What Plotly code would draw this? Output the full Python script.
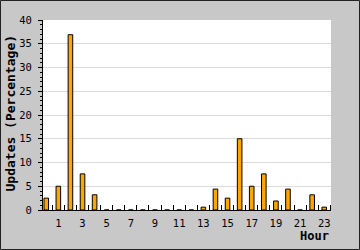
import plotly.graph_objects as go

hours = list(range(24))
updates_pct = [2.5, 5.0, 36.9, 7.6, 3.2, 0, 0, 0, 0, 0, 0, 0, 0,
               0.6, 4.4, 2.5, 15.0, 5.0, 7.6, 1.9, 4.4, 0, 3.2, 0.6]
x_tick_vals = [1, 3, 5, 7, 9, 11, 13, 15, 17, 19, 21, 23]
x_tick_text = [str(v) for v in x_tick_vals]

W, H = 360, 250
ML, MR, MT, MB = 43, 29, 20, 40
PW, PH = W - ML - MR, H - MT - MB

fig = go.Figure(go.Bar(
    x=hours, y=updates_pct, width=0.38,
    marker=dict(color="#ffa500", line=dict(color="#000000", width=1)),
))

font = "DejaVu Sans Mono"
fig.update_layout(
    width=W, height=H,
    margin=dict(l=ML, r=MR, t=MT, b=MB, pad=0, autoexpand=False),
    paper_bgcolor="#c8c8c8", plot_bgcolor="#ffffff",
    showlegend=False,
    font=dict(family=font, size=10.5, color="#000000"),
)
fig.update_xaxes(
    range=[-0.27, 23.56], tickmode="array", tickvals=x_tick_vals, ticktext=x_tick_text,
    ticks="", showgrid=False, zeroline=False, automargin=False,
    showline=True, linecolor="#000000", linewidth=1,
    ticklabelstandoff=3,
    minor=dict(tickmode="linear", tick0=0.5, dtick=1, ticks="inside", ticklen=5,
               tickcolor="#000000", tickwidth=1, showgrid=False),
)
fig.update_yaxes(
    range=[0, 40], tickmode="linear", tick0=0, dtick=5,
    ticks="outside", ticklen=4, tickcolor="#000000", tickwidth=1,
    showgrid=True, gridcolor="#dcdcdc", gridwidth=1, zeroline=False, automargin=False,
    showline=True, linecolor="#000000", linewidth=1,
    ticklabelstandoff=4,
    minor=dict(tickmode="linear", tick0=0, dtick=1, ticks="outside", ticklen=2,
               tickcolor="#000000", tickwidth=1, showgrid=False),
)
fig.add_annotation(
    text="<b>Updates (Percentage)</b>", xref="paper", yref="paper",
    x=-(ML - 10) / PW, y=(H - MB - 113.5) / PH, textangle=-90,
    xanchor="center", yanchor="middle", showarrow=False,
    font=dict(family=font, size=13, color="#000000"),
)
fig.add_annotation(
    text="<b>Hour</b>", xref="paper", yref="paper", x=1.0, y=-26 / PH,
    xanchor="right", yanchor="middle", showarrow=False,
    font=dict(family=font, size=12, color="#000000"),
)
# outer dark border
fig.add_shape(
    type="rect", xref="paper", yref="paper", layer="above",
    x0=-(ML - 0.5) / PW, x1=1 + (MR - 0.5) / PW,
    y0=-(MB - 0.5) / PH, y1=1 + (MT - 0.5) / PH,
    line=dict(color="#222222", width=1),
)

fig.write_html("out.html")
